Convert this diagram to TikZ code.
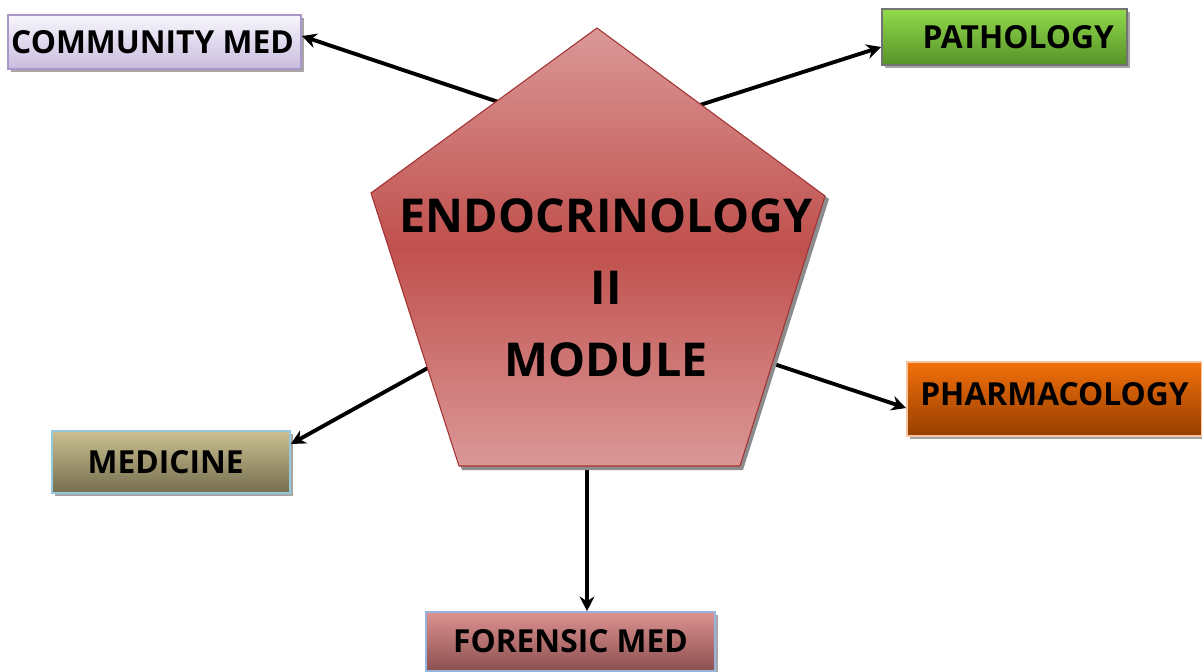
\documentclass[tikz,border=0pt]{standalone}
\usepackage{fontspec}
\setmainfont{Open Sans}
\usetikzlibrary{arrows.meta,shadows}
\begin{document}
\begin{tikzpicture}[x=0.75pt,y=-0.75pt,
  conn/.style={line width=2.9pt,-{Stealth[length=11pt,width=11pt]}},
  boxlbl/.style={font=\fontsize{23.8}{28}\selectfont\bfseries, text=black, inner sep=0pt,
    drop shadow={shadow xshift=2.5pt,shadow yshift=-2.5pt,fill=black!35,opacity=1}},
  pent/.style={draw=red!55!black!80, line width=0.8pt, top color=pkl, bottom color=pkl, middle color=pkm}]
\definecolor{pkl}{HTML}{DA9897}
\definecolor{pkm}{HTML}{C0504D}
\useasboundingbox (0,0) rectangle (1202,671);
% boxes
\node[boxlbl, draw={rgb,255:red,170;green,150;blue,200}, line width=1.2pt,
  top color={rgb,255:red,248;green,246;blue,252}, bottom color={rgb,255:red,200;green,188;blue,222},
  minimum width=219.75pt, minimum height=40.5pt] (cm) at (154.5,42) {\hspace*{-3pt}COMMUNITY MED};
\node[boxlbl, draw=black!55, line width=1.2pt,
  top color={rgb,255:red,146;green,218;blue,76}, bottom color={rgb,255:red,86;green,146;blue,40},
  minimum width=183.75pt, minimum height=42pt, text width=164pt, align=right] (pa) at (1004.5,37) {PATHOLOGY};
\node[boxlbl, draw={rgb,255:red,250;green,196;blue,160}, line width=1.2pt,
  top color={rgb,255:red,242;green,112;blue,10}, bottom color={rgb,255:red,150;green,62;blue,0},
  minimum width=221.25pt, minimum height=55.5pt] (ph) at (1054.5,399) {\raisebox{7pt}{PHARMACOLOGY}};
\node[boxlbl, draw={rgb,255:red,150;green,200;blue,220}, line width=1.2pt,
  top color={rgb,255:red,202;green,192;blue,146}, bottom color={rgb,255:red,118;green,110;blue,78},
  minimum width=178.5pt, minimum height=46.5pt] (me) at (171,462) {\hspace*{-8pt}MEDICINE};
\node[boxlbl, draw={rgb,255:red,150;green,180;blue,220}, line width=1.2pt,
  top color={rgb,255:red,220;green,146;blue,144}, bottom color={rgb,255:red,140;green,80;blue,80},
  minimum width=216.75pt, minimum height=44.25pt] (fm) at (570.5,641.5) {FORENSIC MED};
% connector starts (behind the pentagon)
\coordinate (scm) at (552,120);
\coordinate (spa) at (650,121);
\coordinate (sph) at (720,346);
\coordinate (sme) at (480,339);
\coordinate (sfm) at (587,440);
\draw[conn] (scm) -- (cm.east |- 0,36);
\draw[conn] (spa) -- (pa.west |- 0,47);
\draw[conn] (sph) -- (ph.west |- 0,408);
\draw[conn] (sme) -- (me.east |- 0,444);
\draw[conn] (sfm) -- (fm.north -| 587,0);
% pentagon
\fill[black!45] (600,31) -- (829,199) -- (743,470) -- (462,470) -- (374,196) -- cycle;
\draw[pent] (597,28) -- (825,196) -- (740,466) -- (459,466) -- (371,193) -- cycle;
\node[font=\fontsize{35}{54}\selectfont\bfseries, align=center, inner sep=0pt] (en) at (606,288)
  {ENDOCRINOLOGY\\II\\MODULE};
\end{tikzpicture}
\end{document}
